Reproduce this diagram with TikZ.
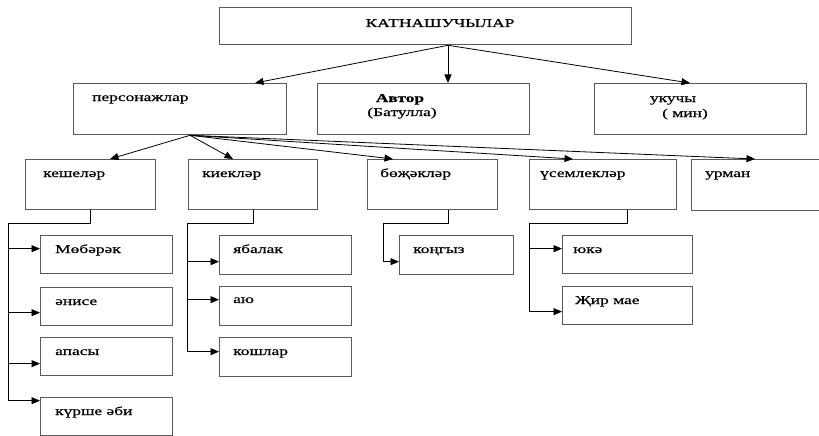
\documentclass[tikz,border=0pt]{standalone}
\usepackage{fontspec}
\setmainfont{Liberation Serif}[FakeStretch=1.45,FakeBold=0.6]
\usetikzlibrary{arrows.meta,calc}
\begin{document}
\begin{tikzpicture}[x=1pt,y=-1pt,
  box/.style={draw=black!65,line width=1.3pt,anchor=north west,inner sep=0pt},
  lbl/.style={anchor=base west,inner sep=0pt,font=\fontsize{12pt}{14pt}\selectfont},
  ctext/.style={anchor=base,inner sep=0pt,font=\fontsize{12pt}{14pt}\selectfont},
  conn/.style={line width=0.8pt,draw=black},
  arr/.style={conn,-{Triangle[length=8.5pt,width=7pt]}}]
\useasboundingbox (0,0) rectangle (819,436);
\clip (0,0) rectangle (819,436);
\fill[white] (0,0) rectangle (819,436);
% boxes
\node[box,minimum width=412pt,minimum height=37pt] (top) at (219,7) {};
\node[box,minimum width=213pt,minimum height=51pt] (pers) at (73,83) {};
\node[box,minimum width=212pt,minimum height=51pt] (avtor) at (317,83) {};
\node[box,minimum width=212pt,minimum height=51pt] (ukuchy) at (594,83) {};
\node[box,minimum width=130pt,minimum height=50pt] (kesh) at (25,159) {};
\node[box,minimum width=129pt,minimum height=50pt] (kiek) at (188,159) {};
\node[box,minimum width=130pt,minimum height=50pt] (bojak) at (367,159) {};
\node[box,minimum width=147pt,minimum height=50pt] (usem) at (529,159) {};
\node[box,minimum width=150pt,minimum height=51pt] (urman) at (691,159) {};
\node[box,minimum width=132pt,minimum height=38pt] (mob) at (40,235) {};
\node[box,minimum width=132pt,minimum height=38pt] (anise) at (40,287) {};
\node[box,minimum width=132pt,minimum height=38pt] (apasy) at (40,337) {};
\node[box,minimum width=132pt,minimum height=38pt] (kurshe) at (40,397) {};
\node[box,minimum width=132pt,minimum height=39pt] (yabalak) at (219,235) {};
\node[box,minimum width=132pt,minimum height=39pt] (ayu) at (219,286) {};
\node[box,minimum width=132pt,minimum height=39pt] (koshlar) at (219,337) {};
\node[box,minimum width=114pt,minimum height=39pt] (kongyz) at (399,235) {};
\node[box,minimum width=130pt,minimum height=38pt] (yuka) at (562,235) {};
\node[box,minimum width=130pt,minimum height=38pt] (jir) at (562,286) {};
% texts
\node[ctext] (topt) at ($(top.north west)+(221,20)$) {КАТНАШУЧЫЛАР};
\node[lbl] (perst) at ($(pers.north west)+(19,18)$) {персонажлар};
\node[ctext,font=\fontsize{12pt}{14pt}\selectfont\bfseries] (avtort) at ($(avtor.north west)+(83,19)$) {Автор};
\node[ctext] (avtort2) at ($(avtor.north west)+(85,33)$) {(Батулла)};
\node[ctext] (ukuchyt) at ($(ukuchy.north west)+(79,19)$) {укучы};
\node[ctext] (ukuchyt2) at ($(ukuchy.north west)+(91,34)$) {( мин)};
\node[lbl] (kesht) at ($(kesh.north west)+(18,18)$) {кешеләр};
\node[lbl] (kiekt) at ($(kiek.north west)+(14,18)$) {киекләр};
\node[lbl] (bojakt) at ($(bojak.north west)+(13,18)$) {бөҗәкләр};
\node[lbl] (usemt) at ($(usem.north west)+(11,18)$) {үсемлекләр};
\node[lbl] (urmant) at ($(urman.north west)+(14,18)$) {урман};
\node[lbl] (mobt) at ($(mob.north west)+(15,18)$) {Мөбәрәк};
\node[lbl] (aniset) at ($(anise.north west)+(15,18)$) {әнисе};
\node[lbl] (apasyt) at ($(apasy.north west)+(15,18)$) {апасы};
\node[lbl] (kurshet) at ($(kurshe.north west)+(15,18)$) {күрше әби};
\node[lbl] (yabalakt) at ($(yabalak.north west)+(14,18)$) {ябалак};
\node[lbl] (ayut) at ($(ayu.north west)+(14,17)$) {аю};
\node[lbl] (koshlart) at ($(koshlar.north west)+(14,18)$) {кошлар};
\node[lbl] (kongyzt) at ($(kongyz.north west)+(14,18)$) {коңгыз};
\node[lbl] (yukat) at ($(yuka.north west)+(11,18)$) {юкә};
\node[lbl] (jirt) at ($(jir.north west)+(13,18)$) {Җир мае};
% top connectors
\coordinate (tsrc) at ($(top.south west)+(229,0)$);
\draw[arr] (tsrc) -- ($(pers.north west)+(182,0)$);
\draw[arr] (tsrc) -- ($(avtor.north west)+(131,0)$);
\draw[arr] (tsrc) -- ($(ukuchy.north west)+(96,0)$);
% personazhlar connectors
\coordinate (psrc) at ($(pers.south west)+(117,0)$);
\draw[arr] (psrc) -- ($(kesh.north west)+(85,0)$);
\draw[arr] (psrc) -- ($(kiek.north west)+(45,0)$);
\draw[arr] (psrc) -- ($(bojak.north west)+(26,0)$);
\draw[arr] (psrc) -- ($(usem.north west)+(44,0)$);
\draw[arr] (psrc) -- ($(urman.north west)+(64,0)$);
% keshelar branch
\coordinate (kbus) at (8,223);
\draw[conn] (kesh.south) |- (kbus);
\draw[arr] (kbus) |- ($(mob.west)+(0,-6)$);
\draw[arr] (kbus) |- ($(anise.west)+(0,6)$);
\draw[arr] (kbus) |- ($(apasy.west)+(0,7)$);
\draw[arr] (kbus) |- ($(kurshe.west)+(0,-16)$);
% kieklar branch
\coordinate (kibus) at (187,223);
\draw[conn] (kiek.south) |- (kibus);
\draw[arr] (kibus) |- ($(yabalak.west)+(0,6.5)$);
\draw[arr] (kibus) |- ($(ayu.west)+(0,-6.5)$);
\draw[arr] (kibus) |- ($(koshlar.west)+(0,-5.5)$);
% bojaklar branch
\coordinate (bbus) at (383,223);
\draw[conn] ($(bojak.south)+(16,0)$) |- (bbus);
\draw[arr] (bbus) |- ($(kongyz.west)+(0,6.5)$);
% usemleklar branch
\coordinate (ubus) at (529,223);
\draw[conn] ($(usem.south)+(24.5,0)$) |- (ubus);
\draw[arr] (ubus) |- ($(yuka.west)+(0,-6)$);
\draw[arr] (ubus) |- ($(jir.west)+(0,6)$);
\end{tikzpicture}
\end{document}
